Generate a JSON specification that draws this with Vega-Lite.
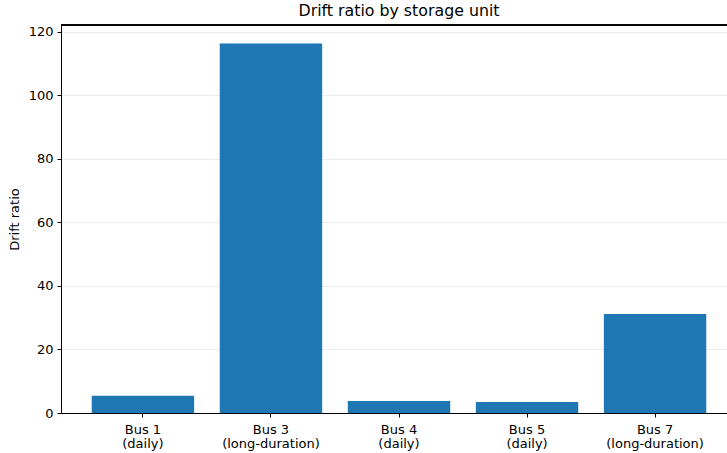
{
  "$schema": "https://vega.github.io/schema/vega-lite/v6.json",
  "width": 666,
  "height": 388,
  "autosize": {"type": "none"},
  "padding": {"left": 61, "top": 25, "right": 0, "bottom": 40},
  "background": "white",
  "config": {
    "font": "DejaVu Sans",
    "view": {"stroke": null},
    "axis": {
      "domainColor": "black",
      "tickColor": "black",
      "labelColor": "black",
      "titleColor": "black",
      "labelFontSize": 13,
      "titleFontSize": 13,
      "titleFontWeight": "normal",
      "tickSize": 4
    }
  },
  "title": {"text": "Drift ratio by storage unit", "fontSize": 15.8, "fontWeight": "normal", "color": "black", "offset": 5, "dx": 5},
  "data": {
    "values": [
      {"unit": "Bus 1\n(daily)", "drift": 5.45},
      {"unit": "Bus 3\n(long-duration)", "drift": 116.4},
      {"unit": "Bus 4\n(daily)", "drift": 3.78},
      {"unit": "Bus 5\n(daily)", "drift": 3.46},
      {"unit": "Bus 7\n(long-duration)", "drift": 31.2}
    ]
  },
  "layer": [
    {
      "mark": {"type": "bar", "color": "#1f77b4"},
      "encoding": {
        "x": {
          "field": "unit", "type": "nominal", "sort": null,
          "scale": {"range": [0, 676], "paddingInner": 0.2, "paddingOuter": 0.24},
          "axis": {"title": null, "labelAngle": 0, "labelExpr": "split(datum.label, '\\n')", "labelPadding": 6, "labelLineHeight": 14, "domainWidth": 1}
        },
        "y": {
          "field": "drift", "type": "quantitative",
          "scale": {"domain": [0, 122.2], "nice": false},
          "axis": {"title": "Drift ratio", "values": [0, 20, 40, 60, 80, 100, 120], "gridColor": "#e6e6e6", "gridWidth": 0.8, "titlePadding": 7, "labelPadding": 4}
        }
      }
    },
    {
      "mark": {"type": "rule", "color": "black", "strokeWidth": 1},
      "encoding": {"y": {"datum": 122.2}}
    }
  ]
}
